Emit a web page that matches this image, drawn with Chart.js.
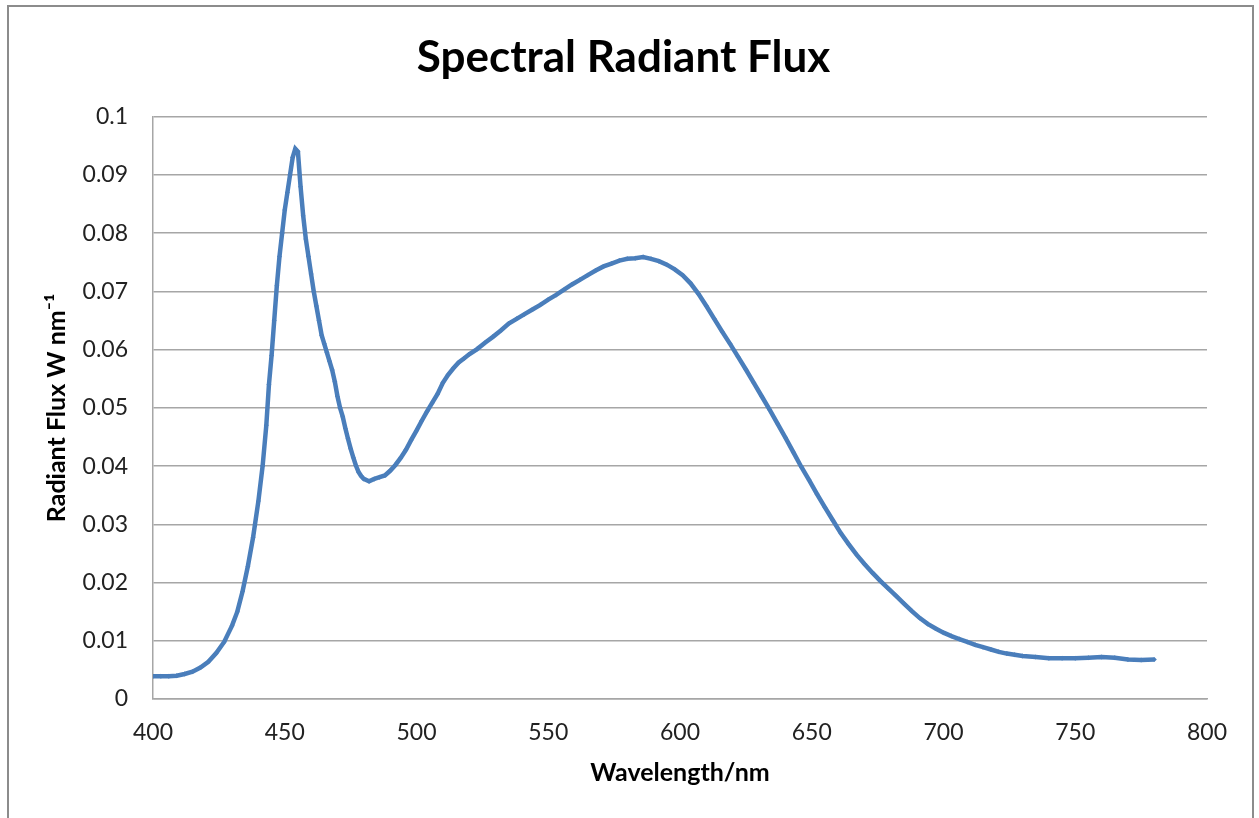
<!DOCTYPE html>
<html>
<head>
<meta charset="utf-8">
<script src="https://cdn.jsdelivr.net/npm/chart.js@4.4.1/dist/chart.umd.min.js"></script>
<style>
  html, body { margin: 0; padding: 0; background: #fff; }
  #frame { position: absolute; left: 7px; top: 5px; width: 1243px; height: 830px; border: 2px solid #8c8c8c; }
  #wrap { position: absolute; left: 0; top: 0; width: 1259px; height: 818px; }
</style>
</head>
<body>
<div id="frame"></div>
<div id="wrap"><canvas id="spectrum"></canvas></div>
<script>
// wavelengths in nm
const wavelengths = [
  400, 403, 406, 409, 412, 415, 418, 421, 424, 427, 430, 432, 434, 436, 438, 440,
  441.6, 443, 444, 445, 446, 447, 448, 449, 450, 451, 452, 453, 454, 455, 456, 457,
  458, 459, 460, 461, 462, 463, 464, 465, 466, 467, 468, 469, 470, 471, 472, 473,
  474, 475, 476, 477, 478, 479, 480, 482, 484, 486, 488, 490, 492, 494, 496, 498,
  500, 502, 504, 506, 508, 510, 512, 514, 516, 518, 520, 523, 526, 529, 532, 535,
  538, 541, 544, 547, 550, 553, 556, 559, 562, 565, 568, 571, 574, 577, 580, 583,
  586, 589, 592, 595, 598, 601, 604, 607, 610, 613, 616, 619, 622, 625, 628, 631,
  634, 637, 640, 643, 646, 649, 652, 655, 658, 661, 664, 667, 670, 673, 676, 679,
  682, 685, 688, 691, 694, 697, 700, 703, 706, 709, 712, 715, 718, 721, 724, 727,
  730, 735, 740, 745, 750, 755, 760, 765, 770, 775, 780
];
// radiant flux, W nm-1
const flux = [
  0.0039, 0.0039, 0.0039, 0.0040, 0.0043, 0.0047, 0.0054, 0.0064, 0.0079, 0.0098, 0.0126, 0.0150, 0.0185, 0.0228, 0.0278, 0.0340,
  0.0400, 0.0470, 0.0540, 0.0590, 0.0650, 0.0710, 0.0760, 0.0800, 0.0840, 0.0870, 0.0900, 0.0930, 0.0945, 0.0940, 0.0880, 0.0830,
  0.0790, 0.0760, 0.0730, 0.0700, 0.0675, 0.0650, 0.0625, 0.0610, 0.0595, 0.0580, 0.0565, 0.0545, 0.0520, 0.0500, 0.0485, 0.0465,
  0.0447, 0.0430, 0.0415, 0.0401, 0.0390, 0.0383, 0.0378, 0.0374, 0.0378, 0.0381, 0.0384, 0.0392, 0.0402, 0.0414, 0.0428, 0.0445,
  0.0461, 0.0478, 0.0494, 0.0509, 0.0524, 0.0543, 0.0557, 0.0568, 0.0578, 0.0585, 0.0592, 0.0601, 0.0612, 0.0622, 0.0633, 0.0645,
  0.0653, 0.0661, 0.0669, 0.0677, 0.0686, 0.0694, 0.0703, 0.0712, 0.0720, 0.0728, 0.0736, 0.0743, 0.0748, 0.0753, 0.0756, 0.0757,
  0.0759, 0.0756, 0.0752, 0.0746, 0.0738, 0.0728, 0.0714, 0.0696, 0.0675, 0.0653, 0.0631, 0.0610, 0.0588, 0.0566, 0.0543, 0.0520,
  0.0497, 0.0473, 0.0449, 0.0424, 0.0399, 0.0376, 0.0352, 0.0329, 0.0307, 0.0285, 0.0266, 0.0248, 0.0232, 0.0217, 0.0203, 0.0190,
  0.0177, 0.0164, 0.0151, 0.0139, 0.0129, 0.0121, 0.0114, 0.0108, 0.0103, 0.0098, 0.0093, 0.0089, 0.0085, 0.0081, 0.0078, 0.0076,
  0.0074, 0.0072, 0.0070, 0.0070, 0.0070, 0.0071, 0.0072, 0.0071, 0.0068, 0.0067, 0.0068
];

const points = wavelengths.map((w, i) => ({ x: w, y: flux[i] }));
const blue = '#4a7ebb';
const gridGrey = '#a6a6a6';

new Chart(document.getElementById('spectrum'), {
  type: 'line',
  data: {
    datasets: [{
      label: 'Spectral Radiant Flux',
      data: points,
      borderColor: blue,
      backgroundColor: blue,
      borderWidth: 4.5,
      pointStyle: 'rectRot',
      pointRadius: 2.5,
      pointBorderWidth: 0,
      tension: 0
    }]
  },
  options: {
    responsive: true,
    maintainAspectRatio: false,
    animation: false,
    layout: { padding: { left: 40, right: 52, top: 0, bottom: 0 } },
    plugins: {
      legend: { display: false },
      tooltip: { enabled: false },
      title: {
        display: true,
        text: 'Spectral Radiant Flux',
        color: '#000',
        font: { family: 'Lato', size: 44, weight: 'bold' },
        padding: { top: 31, bottom: 33 }
      }
    },
    scales: {
      x: {
        type: 'linear',
        min: 400,
        max: 800,
        ticks: { stepSize: 50, color: '#222', font: { family: 'Lato', size: 23 }, padding: 20 },
        grid: { display: false, drawTicks: false },
        border: { color: gridGrey, width: 1.5 },
        title: {
          display: true,
          text: 'Wavelength/nm',
          color: '#000',
          font: { family: 'Lato', size: 25, weight: 'bold' },
          padding: { top: 0, bottom: 30 }
        },
        afterFit: s => { s.height = 119; }
      },
      y: {
        min: 0,
        max: 0.1,
        ticks: {
          stepSize: 0.01,
          color: '#222',
          font: { family: 'Lato', size: 23 },
          padding: 25,
          callback: v => String(+v.toFixed(2))
        },
        grid: { color: gridGrey, lineWidth: 1.5, drawTicks: false },
        border: { color: gridGrey, width: 1.5 },
        title: {
          display: true,
          text: 'Radiant Flux W nm\u207B\u00B9',
          color: '#000',
          font: { family: 'Lato', size: 25, weight: 'bold' },
          padding: { top: 2, bottom: 0 }
        },
        afterFit: s => { s.width = 113; }
      }
    }
  }
});
</script>
</body>
</html>
